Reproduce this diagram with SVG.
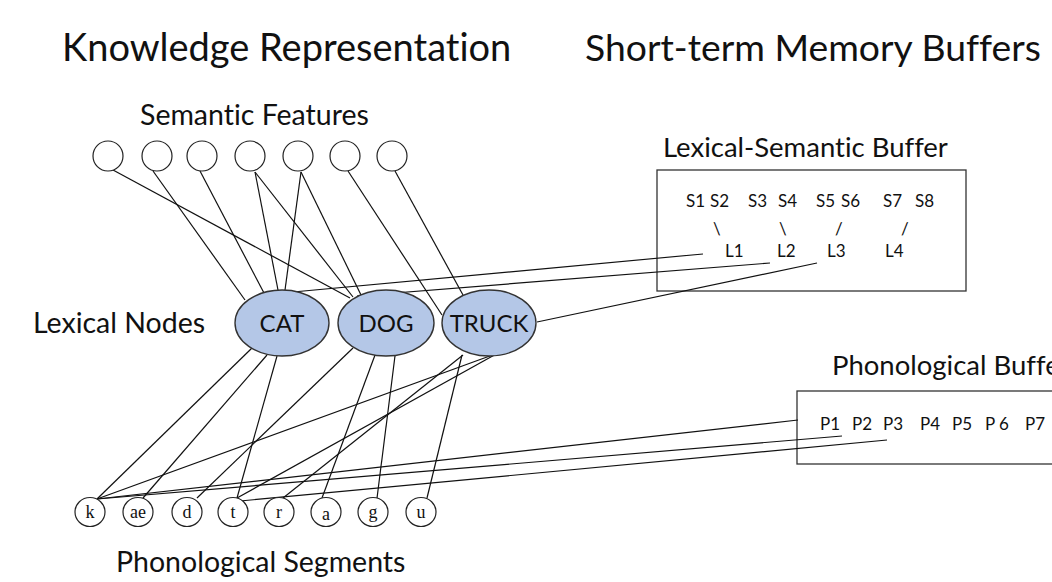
<svg xmlns="http://www.w3.org/2000/svg" width="1052" height="582" viewBox="0 0 1052 582">
<style>
text{font-family:Lato,"Noto Sans","Liberation Sans",sans-serif;fill:#111;font-variant-ligatures:none}
.t1{font-size:38px}
.t2{font-size:28.5px}
.t3{font-size:27.5px}
.lab{font-size:24px;text-anchor:middle}
.b{font-size:17px}
.ph{font-family:"Liberation Serif",serif;font-size:18px;text-anchor:middle}
.sem{fill:#fff;stroke:#222;stroke-width:1.2}
.lex{fill:#b4c7e7;stroke:#333;stroke-width:1.4}
.seg{fill:#fff;stroke:#222;stroke-width:1.2}
.box{fill:#fff;stroke:#333;stroke-width:1.3}
#connectors line{stroke:#111;stroke-width:1.2}
</style>
<rect width="1052" height="582" fill="#fff"/>
<text class="t1" x="62" y="61">Knowledge Representation</text>
<text class="t1" x="585" y="61" style="font-size:37.3px">Short-term Memory Buffers</text>
<text class="t2" x="140" y="125">Semantic Features</text>
<text class="t2" x="33" y="333">Lexical Nodes</text>
<text class="t2" x="116" y="572">Phonological Segments</text>
<g id="lexsem-buffer">
<rect class="box" x="657" y="170" width="309" height="121"/>
<text class="t3" x="663" y="157">Lexical-Semantic Buffer</text>
<text class="b" x="686" y="207">S1</text><text class="b" x="710" y="207">S2</text>
<text class="b" x="748" y="207">S3</text><text class="b" x="778" y="207">S4</text>
<text class="b" x="816" y="207">S5</text><text class="b" x="841" y="207">S6</text>
<text class="b" x="883" y="207">S7</text><text class="b" x="915" y="207">S8</text>
<text class="b" x="713" y="235">\</text><text class="b" x="779" y="235">\</text>
<text class="b" x="835" y="235">/</text><text class="b" x="901" y="235">/</text>
<text class="b" x="725" y="257">L1</text><text class="b" x="777" y="257">L2</text>
<text class="b" x="827" y="257">L3</text><text class="b" x="885" y="257">L4</text>
</g>
<g id="phon-buffer">
<rect class="box" x="797" y="391" width="270" height="73"/>
<text class="t3" x="832" y="375">Phonological Buffer</text>
<text class="b" x="820" y="430">P1</text><text class="b" x="852" y="430">P2</text>
<text class="b" x="883" y="430">P3</text><text class="b" x="920" y="430">P4</text>
<text class="b" x="952" y="430">P5</text><text class="b" x="985" y="430">P 6</text>
<text class="b" x="1025" y="430">P7</text>
</g>
<g id="connectors">
<line x1="113" y1="170" x2="350" y2="298"/>
<line x1="153" y1="171" x2="245" y2="300"/>
<line x1="200" y1="171" x2="264" y2="293"/>
<line x1="255" y1="172" x2="278" y2="290"/>
<line x1="255" y1="172" x2="353" y2="297"/>
<line x1="301" y1="172" x2="285" y2="290"/>
<line x1="301" y1="172" x2="361" y2="295"/>
<line x1="348" y1="171" x2="442" y2="315"/>
<line x1="395" y1="171" x2="463" y2="295"/>
<line x1="293" y1="292" x2="703" y2="254"/>
<line x1="357" y1="296" x2="770" y2="263"/>
<line x1="537" y1="322" x2="817" y2="263"/>
<line x1="252" y1="348" x2="97" y2="499"/>
<line x1="267" y1="355" x2="143" y2="498"/>
<line x1="277" y1="356" x2="237" y2="498"/>
<line x1="353" y1="348" x2="197" y2="498"/>
<line x1="375" y1="355" x2="322" y2="498"/>
<line x1="395" y1="356" x2="377" y2="498"/>
<line x1="498" y1="353" x2="97" y2="499"/>
<line x1="498" y1="353" x2="237" y2="498"/>
<line x1="463" y1="355" x2="283" y2="498"/>
<line x1="462" y1="355" x2="427" y2="498"/>
<line x1="97" y1="499" x2="798" y2="420"/>
<line x1="97" y1="499" x2="842" y2="436"/>
<line x1="240" y1="501" x2="887" y2="440"/>
</g>
<g id="sem1"><circle class="sem" cx="108" cy="156" r="15"/></g>
<g id="sem2"><circle class="sem" cx="157" cy="156" r="15"/></g>
<g id="sem3"><circle class="sem" cx="202" cy="156" r="15"/></g>
<g id="sem4"><circle class="sem" cx="250" cy="156" r="15"/></g>
<g id="sem5"><circle class="sem" cx="298" cy="156" r="15"/></g>
<g id="sem6"><circle class="sem" cx="345" cy="156" r="15"/></g>
<g id="sem7"><circle class="sem" cx="392" cy="156" r="15"/></g>
<g id="cat"><ellipse class="lex" cx="282" cy="323" rx="47" ry="33"/><text class="lab" x="282" y="332">CAT</text></g>
<g id="dog"><ellipse class="lex" cx="386" cy="323" rx="48" ry="33"/><text class="lab" x="386" y="332">DOG</text></g>
<g id="truck"><ellipse class="lex" cx="489" cy="323" rx="47" ry="33"/><text class="lab" x="489" y="332">TRUCK</text></g>
<g id="k"><ellipse class="seg" cx="90" cy="512" rx="15" ry="14.5"/><text class="ph" x="90" y="518">k</text></g>
<g id="ae"><ellipse class="seg" cx="138" cy="512" rx="15" ry="14.5"/><text class="ph" x="138" y="518">ae</text></g>
<g id="d"><ellipse class="seg" cx="187" cy="512" rx="15" ry="14.5"/><text class="ph" x="187" y="518">d</text></g>
<g id="t"><ellipse class="seg" cx="233" cy="512" rx="15" ry="14.5"/><text class="ph" x="233" y="518">t</text></g>
<g id="r"><ellipse class="seg" cx="279" cy="512" rx="15" ry="14.5"/><text class="ph" x="279" y="518">r</text></g>
<g id="a"><ellipse class="seg" cx="326" cy="512" rx="15" ry="14.5"/><text class="ph" x="326" y="520">a</text></g>
<g id="g"><ellipse class="seg" cx="373" cy="512" rx="15" ry="14.5"/><text class="ph" x="373" y="518">g</text></g>
<g id="u"><ellipse class="seg" cx="421" cy="512" rx="15" ry="14.5"/><text class="ph" x="421" y="518">u</text></g>
</svg>
